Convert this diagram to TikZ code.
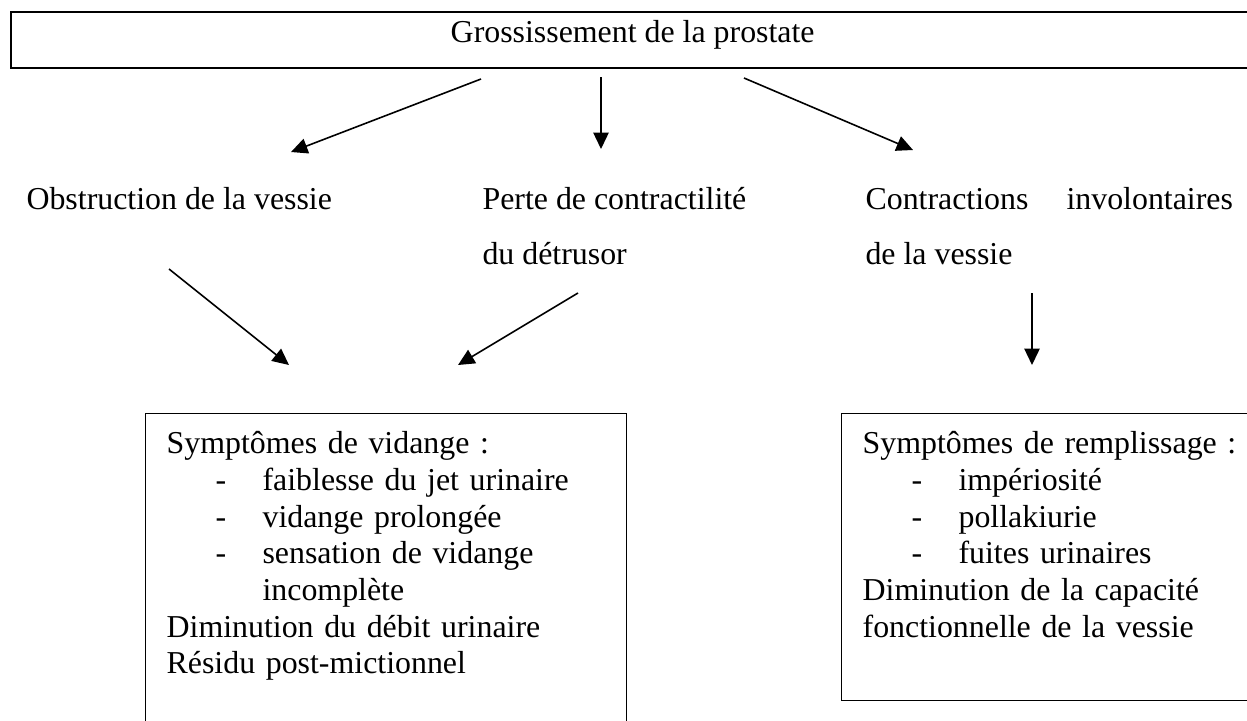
\documentclass[tikz,border=0pt]{standalone}
\usepackage{fontspec}
\setmainfont{Liberation Serif}
\usetikzlibrary{arrows.meta}
\newcommand{\tiret}[1]{\hspace*{18.4pt}\makebox[17.7pt][l]{-}#1}
\newcommand{\suite}[1]{\hspace*{36.1pt}#1}

\begin{document}
\begin{tikzpicture}[x=0.3764pt,y=-0.3764pt,
  fleche/.style={draw,line width=0.6pt,-{Triangle[length=6.2pt,width=5.8pt]}},
  cadre/.style={draw,line width=0.5pt,anchor=north west,inner xsep=7.9pt,inner ysep=0pt,align=left,font=\fontsize{12}{13.8}\selectfont},
  titre/.style={anchor=north west,inner sep=0pt,align=left,font=\fontsize{12}{20.7}\selectfont}]
\useasboundingbox (0,0) rectangle (1247,720);

\node [draw,line width=0.75pt,anchor=north west,inner sep=0pt,minimum width=468pt,text height=11.5pt,text depth=9.6pt,font=\fontsize{12}{13.8}\selectfont] (prostate) at (10,11) {Grossissement de la prostate};

\node [titre] (obstruction) at (26,177) {\rule{0pt}{12pt}Obstruction de la vessie};
\node [titre] (perte) at (482,177) {\rule{0pt}{12pt}Perte de contractilité\\du détrusor};
\node [titre] (contractions) at (865,177) {\rule{0pt}{12pt}\makebox[138.3pt][s]{Contractions involontaires}\\de la vessie};

\node [cadre,text width=165.2pt] (vidange) at (145,413) {\rule{0pt}{15.06pt}Symptômes de vidange~:\\
\tiret{faiblesse du jet urinaire}\\
\tiret{vidange prolongée}\\
\tiret{sensation de vidange}\\
\suite{incomplète}\\
Diminution du débit urinaire\\
Résidu post-mictionnel\rule[-30pt]{0pt}{0pt}};

\node [cadre,text width=150pt] (remplissage) at (841,413) {\rule{0pt}{15.06pt}Symptômes de remplissage~:\\
\tiret{impériosité}\\
\tiret{pollakiurie}\\
\tiret{fuites urinaires}\\
Diminution de la capacité\\
fonctionnelle de la vessie\rule[-24pt]{0pt}{0pt}};

\coordinate (prostate-o) at (481,79);
\coordinate (prostate-p) at (601,77);
\coordinate (prostate-c) at (744,78);
\coordinate (vers-obstruction) at (291,152);
\coordinate (vers-perte) at (601,149);
\coordinate (vers-contractions) at (913,150);
\coordinate (obstruction-v) at (169,269);
\coordinate (perte-v) at (578,293);
\coordinate (contractions-r) at (1032,293);
\coordinate (vers-vidange-o) at (289,365);
\coordinate (vers-vidange-p) at (458,365);
\coordinate (vers-remplissage) at (1032,365);

\draw [fleche] (prostate-o) -- (vers-obstruction);
\draw [fleche] (prostate-p) -- (vers-perte);
\draw [fleche] (prostate-c) -- (vers-contractions);
\draw [fleche] (obstruction-v) -- (vers-vidange-o);
\draw [fleche] (perte-v) -- (vers-vidange-p);
\draw [fleche] (contractions-r) -- (vers-remplissage);
\end{tikzpicture}
\end{document}
